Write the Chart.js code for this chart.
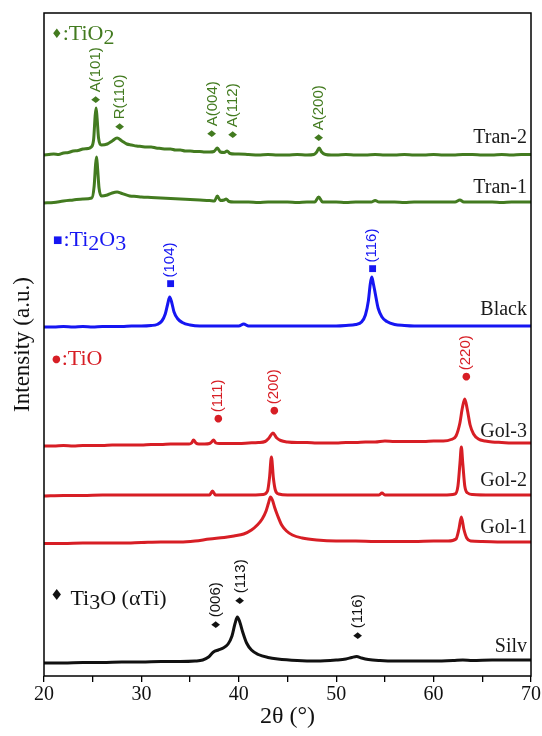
<!DOCTYPE html>
<html>
<head>
<meta charset="utf-8">
<script src="https://cdn.jsdelivr.net/npm/chart.js@4.4.1/dist/chart.umd.min.js"></script>
<style>
  html, body { margin: 0; padding: 0; background: #fff; }
  canvas { display: block; }
</style>
</head>
<body>
<canvas id="xrd" width="542" height="736"></canvas>
<script>
// 2θ axis
const xMin = 20, xMax = 70;
const yTop = 663;

// patterns: [2θ, intensity incl. stacking offset]
const tran2 = [[20,521],[20.5,521.5],[21,522],[21.5,521.5],[22,523],[22.5,523.5],[23,525],[23.5,525.5],[24,527],[24.5,527.5],[24.85,529],[25.1,537],[25.25,560],[25.35,568],[25.45,558],[25.6,538],[25.9,531],[26.5,532],[27,535],[27.5,538],[28,535],[28.5,532],[29,531],[29.5,530],[30,529.5],[30.5,529],[31,529],[31.5,528],[32,527.5],[32.5,527],[33,527],[33.5,526],[34,526],[34.5,525],[35,525],[35.5,524.5],[36,524.5],[36.5,524],[37,524],[37.45,524.5],[37.8,528],[38.1,524],[38.5,523.5],[38.8,525],[39.1,522.5],[39.6,522],[40,522],[41,521.5],[42,521],[43,521.5],[44,521],[45,521],[46,521.5],[47,521],[47.7,521.5],[48.0,524],[48.25,528],[48.5,524],[48.9,521.5],[49.5,521],[50,521],[51,521.5],[52,521],[53,521],[54,521.5],[55,521],[56,521],[57,521.5],[58,521],[59,521],[60,521.5],[61,521],[62,521],[63,521.5],[64,521.5],[65,521],[66,521],[67,521.5],[68,521],[69,521.5],[70,521.5]];
const tran1 = [[20,473],[21,473.5],[22,475],[23,476],[24,477],[24.9,478],[25.15,490],[25.3,512],[25.4,519],[25.5,508],[25.65,488],[25.9,480],[26.5,481],[27,483],[27.5,484],[28,482.5],[28.8,480],[29.5,479.5],[30,479],[31,478.5],[32,478],[33,477.5],[34,477],[35,476.5],[36,476],[37,475.5],[37.5,475],[37.8,480],[38.1,475.5],[38.5,476],[38.7,477],[39.0,474.5],[39.5,474],[40,474],[41,474],[42,473.5],[43,474],[44,474],[45,474],[46,473.5],[47,474],[47.8,474],[48.2,479],[48.6,474],[49.5,474],[50,474],[51,473.5],[52,474],[53,474],[53.6,474],[54,475.5],[54.4,474],[55,474],[56,474],[57,473.5],[58,474],[59,474],[60,474],[61,474],[62.2,474],[62.7,476],[63.1,474],[64,474],[65,474],[66,474],[67,473.5],[68,474],[69,474],[70,474]];
const black = [[20,349],[21,349],[22,349.5],[23,349],[24,349.5],[25,349],[26,349.5],[27,349.5],[28,349.5],[29,350],[30,350],[31,350.5],[31.6,351.5],[32.1,355],[32.45,362],[32.7,372],[32.9,379],[33.1,374],[33.35,364],[33.7,357.5],[34.2,353.5],[35,351],[36,350],[37,350],[38,350],[39,350],[40,350],[40.5,352],[41,350],[42,350],[43,350],[44,350],[45,350],[46,350],[47,350],[48,350],[49,350],[50,350],[51,350.5],[52,351.5],[52.6,354],[53.0,361],[53.3,375],[53.5,392],[53.65,399],[53.8,393],[54.0,383],[54.3,368],[54.7,359],[55.2,354.5],[56,351.5],[57,350.5],[58,350],[59,350],[60,350],[61,350],[62,350],[63,350],[64,350],[65,350],[66,350],[67,350],[68,350],[69,350],[70,350]];
const gol3 = [[20,230],[21,230],[22,230.5],[23,230],[24,230.5],[25,230.5],[26,230.5],[27,231],[28,231],[29,231],[30,231],[31,231.5],[32,231.5],[33,232],[34,232],[34.9,232],[35.15,233],[35.35,236],[35.6,233],[35.9,232],[36.5,232],[37.0,232.5],[37.2,234],[37.4,236],[37.65,233],[38,232.5],[39,232.5],[40,232.5],[41,233],[42,233.5],[42.7,234.5],[43.1,238],[43.5,243],[43.9,238],[44.3,235.5],[45,234],[46,233.5],[47,233.5],[48,233],[49,233],[50,233],[51,233.5],[52,233.5],[53,234],[54,234],[55,235],[56,234.5],[57,234.5],[58,234.5],[59,234.5],[60,235],[61,235],[61.8,236.5],[62.3,240],[62.7,253],[62.95,268],[63.2,277],[63.45,267],[63.75,251],[64.1,242],[64.6,237],[65.3,235],[66,234],[67,233.5],[68,233],[69,233],[70,233]];
const gol2 = [[20,180],[22,180.5],[24,180.5],[26,181],[28,181],[30,181],[32,181],[34,181],[36,181],[37.0,181],[37.3,185],[37.6,181],[39,181],[41,181],[42.5,181.5],[42.95,185],[43.15,198],[43.35,219],[43.55,198],[43.75,186],[44.1,182],[45,181],[47,181],[50,181],[52,181],[54.4,181],[54.7,183],[55,181],[57,181],[59,181],[61,181],[62.2,182],[62.5,190],[62.7,212],[62.85,229],[63.0,212],[63.2,190],[63.5,183],[64,181.5],[66,181],[68,181],[70,181]];
const gol1 = [[20,132.5],[22,132.5],[24,133],[26,133],[28,133],[30,133.5],[32,134],[34,134],[35.5,135],[37,137],[38.5,138.5],[39.5,140],[40.5,142],[41.3,146],[41.9,151],[42.4,157],[42.8,165],[43.05,173],[43.25,179],[43.45,176],[43.7,168],[44,160],[44.4,151],[44.9,145],[45.5,141],[46.5,138],[48,136],[50,135],[52,135],[54,134.5],[56,134.5],[58,134.5],[60,135],[61.5,135],[62.3,137],[62.6,147],[62.85,159],[63.1,147],[63.4,138],[63.8,135],[65,134.5],[67,134],[70,134]];
const silv = [[20,13],[22,13],[24,13.5],[26,13.5],[28,14],[30,14],[32,14.5],[34,14.5],[35.5,15],[36.3,16],[36.9,19],[37.4,24],[37.9,26],[38.4,28],[38.9,32],[39.3,40],[39.6,52],[39.85,59],[40.1,54],[40.4,44],[40.8,33],[41.3,26],[42,21.5],[43,18.5],[44,17],[46,15.5],[48,15],[50,16],[51,17],[51.6,18.5],[52.1,19.5],[52.6,18],[53.3,16.5],[54.5,15.5],[56,15],[58,15],[60,15],[62,15.5],[63,16],[64,15.5],[66,16],[68,16],[70,16]];

const seriesNames = ['Tran-2', 'Tran-1', 'Black', 'Gol-3', 'Gol-2', 'Gol-1', 'Silv'];
const seriesData = [tran2, tran1, black, gol3, gol2, gol1, silv];
// level where each sample name sits (same units as intensity)
const nameLevels = [533, 483, 361, 239, 190, 143, 24];

// peak indexing: [2θ, level, hkl]
const tio2Peaks = [[25.35, 572, 'A(101)'], [27.8, 545, 'R(110)'], [37.3, 538, 'A(004)'], [39.4, 537, 'A(112)'], [48.25, 534, 'A(200)']];
const ti2o3Peaks = [[32.95, 389, '(104)'], [53.7, 404, '(116)']];
const tioPeaks = [[37.85, 254, '(111)'], [43.6, 262, '(200)'], [63.3, 296, '(220)']];
const ti3oPeaks = [[37.65, 47, '(006)'], [40.2, 71, '(113)'], [52.25, 36, '(116)']];

const GREEN = '#437b20', BLUE = '#1616f2', RED = '#d71e25', BLACK = '#111111';
const colors = [GREEN, GREEN, BLUE, RED, RED, RED, BLACK];
const SERIF = '"Liberation Serif", "Times New Roman", serif';
const SANS = '"DejaVu Sans", Arial, sans-serif';
const LABEL = '"Liberation Sans", Arial, sans-serif';

function drawParts(ctx, parts, x, y, color) {
  ctx.fillStyle = color;
  ctx.textAlign = 'left';
  ctx.textBaseline = 'alphabetic';
  let cx = x;
  parts.forEach(p => {
    ctx.font = (p.size || 22) + 'px ' + (p.fam || SERIF);
    ctx.fillText(p.t, cx, y + (p.sub ? 4 : 0) + (p.dy || 0));
    cx += ctx.measureText(p.t).width + (p.gap || 0);
  });
}

const decor = {
  id: 'decor',
  afterDatasetsDraw(chart) {
    const { ctx, chartArea: a, scales: { x, y } } = chart;
    ctx.save();

    // sample names at right
    ctx.font = '20px ' + SERIF;
    ctx.fillStyle = '#1a1a1a';
    ctx.textAlign = 'right';
    ctx.textBaseline = 'alphabetic';
    seriesNames.forEach((n, i) => ctx.fillText(n, a.right - 4, y.getPixelForValue(nameLevels[i])));

    // phase keys
    drawParts(ctx, [{ t: '♦', size: 13, fam: SANS, dy: -2, gap: 0 }, { t: ':TiO' }, { t: '2', sub: true }], a.left + 7, 40, GREEN);
    drawParts(ctx, [{ t: '■', size: 10, fam: SANS, dy: -3, gap: 1 }, { t: ':Ti' }, { t: '2', sub: true }, { t: 'O' }, { t: '3', sub: true }], a.left + 9, 246, BLUE);
    drawParts(ctx, [{ t: '●', size: 10, fam: SANS, dy: -3, gap: 1 }, { t: ':TiO' }], a.left + 8, 365, RED);
    drawParts(ctx, [{ t: '♦', size: 15, fam: SANS, dy: -5, gap: 7 }, { t: 'Ti' }, { t: '3', sub: true }, { t: 'O (αTi)' }], a.left + 6, 605, BLACK);

    // peak labels, rotated
    const groups = [[tio2Peaks, '♦', GREEN, 12], [ti2o3Peaks, '■', BLUE, 9], [tioPeaks, '●', RED, 10], [ti3oPeaks, '♦', BLACK, 12]];
    groups.forEach(([peaks, mark, col, ms]) => {
      peaks.forEach(([px, lv, txt]) => {
        ctx.save();
        ctx.translate(x.getPixelForValue(px), y.getPixelForValue(lv));
        ctx.rotate(-Math.PI / 2);
        ctx.fillStyle = col;
        ctx.textAlign = 'left';
        ctx.textBaseline = 'middle';
        ctx.font = ms + 'px ' + SANS;
        ctx.fillText(mark, -1, 0.5);
        const w = ctx.measureText(mark).width;
        ctx.font = '15px ' + LABEL;
        ctx.fillText(txt, w + 1, 0);
        ctx.restore();
      });
    });
    ctx.restore();
  },
  afterDraw(chart) {
    const { ctx, chartArea: a } = chart;
    ctx.save();
    ctx.strokeStyle = '#000';
    ctx.lineWidth = 1.5;
    ctx.strokeRect(a.left, a.top, a.right - a.left, a.bottom - a.top);
    ctx.restore();
  }
};

new Chart(document.getElementById('xrd'), {
  type: 'line',
  data: {
    datasets: seriesData.map((d, i) => ({
      label: seriesNames[i],
      data: d.map(([px, py]) => ({ x: px, y: py })),
      borderColor: colors[i],
      borderWidth: 3,
      pointRadius: 0,
      cubicInterpolationMode: 'monotone',
      fill: false
    }))
  },
  options: {
    responsive: false,
    animation: false,
    layout: { padding: { top: 13, right: 11, left: 0, bottom: 0 } },
    plugins: { legend: { display: false }, tooltip: { enabled: false } },
    scales: {
      x: {
        type: 'linear',
        min: xMin,
        max: xMax,
        afterFit: s => { s.height = 60; },
        border: { display: false },
        grid: { display: true, drawOnChartArea: false, drawTicks: true, tickLength: 6, color: '#000', lineWidth: 1.3 },
        ticks: {
          stepSize: 5,
          autoSkip: false,
          maxRotation: 0,
          padding: 1,
          color: '#111',
          font: { family: SERIF, size: 20 },
          callback: v => (v % 10 === 0 ? v : '')
        },
        title: { display: true, text: '2θ (°)', color: '#111', font: { family: SERIF, size: 24 }, padding: { top: 0, bottom: 5 } }
      },
      y: {
        min: 0,
        max: yTop,
        afterFit: s => { s.width = 44; },
        border: { display: false },
        grid: { display: false },
        ticks: { display: false },
        title: { display: true, text: 'Intensity (a.u.)', color: '#111', font: { family: SERIF, size: 23 }, padding: { top: 9, bottom: 0 } }
      }
    }
  },
  plugins: [decor]
});
</script>
</body>
</html>
